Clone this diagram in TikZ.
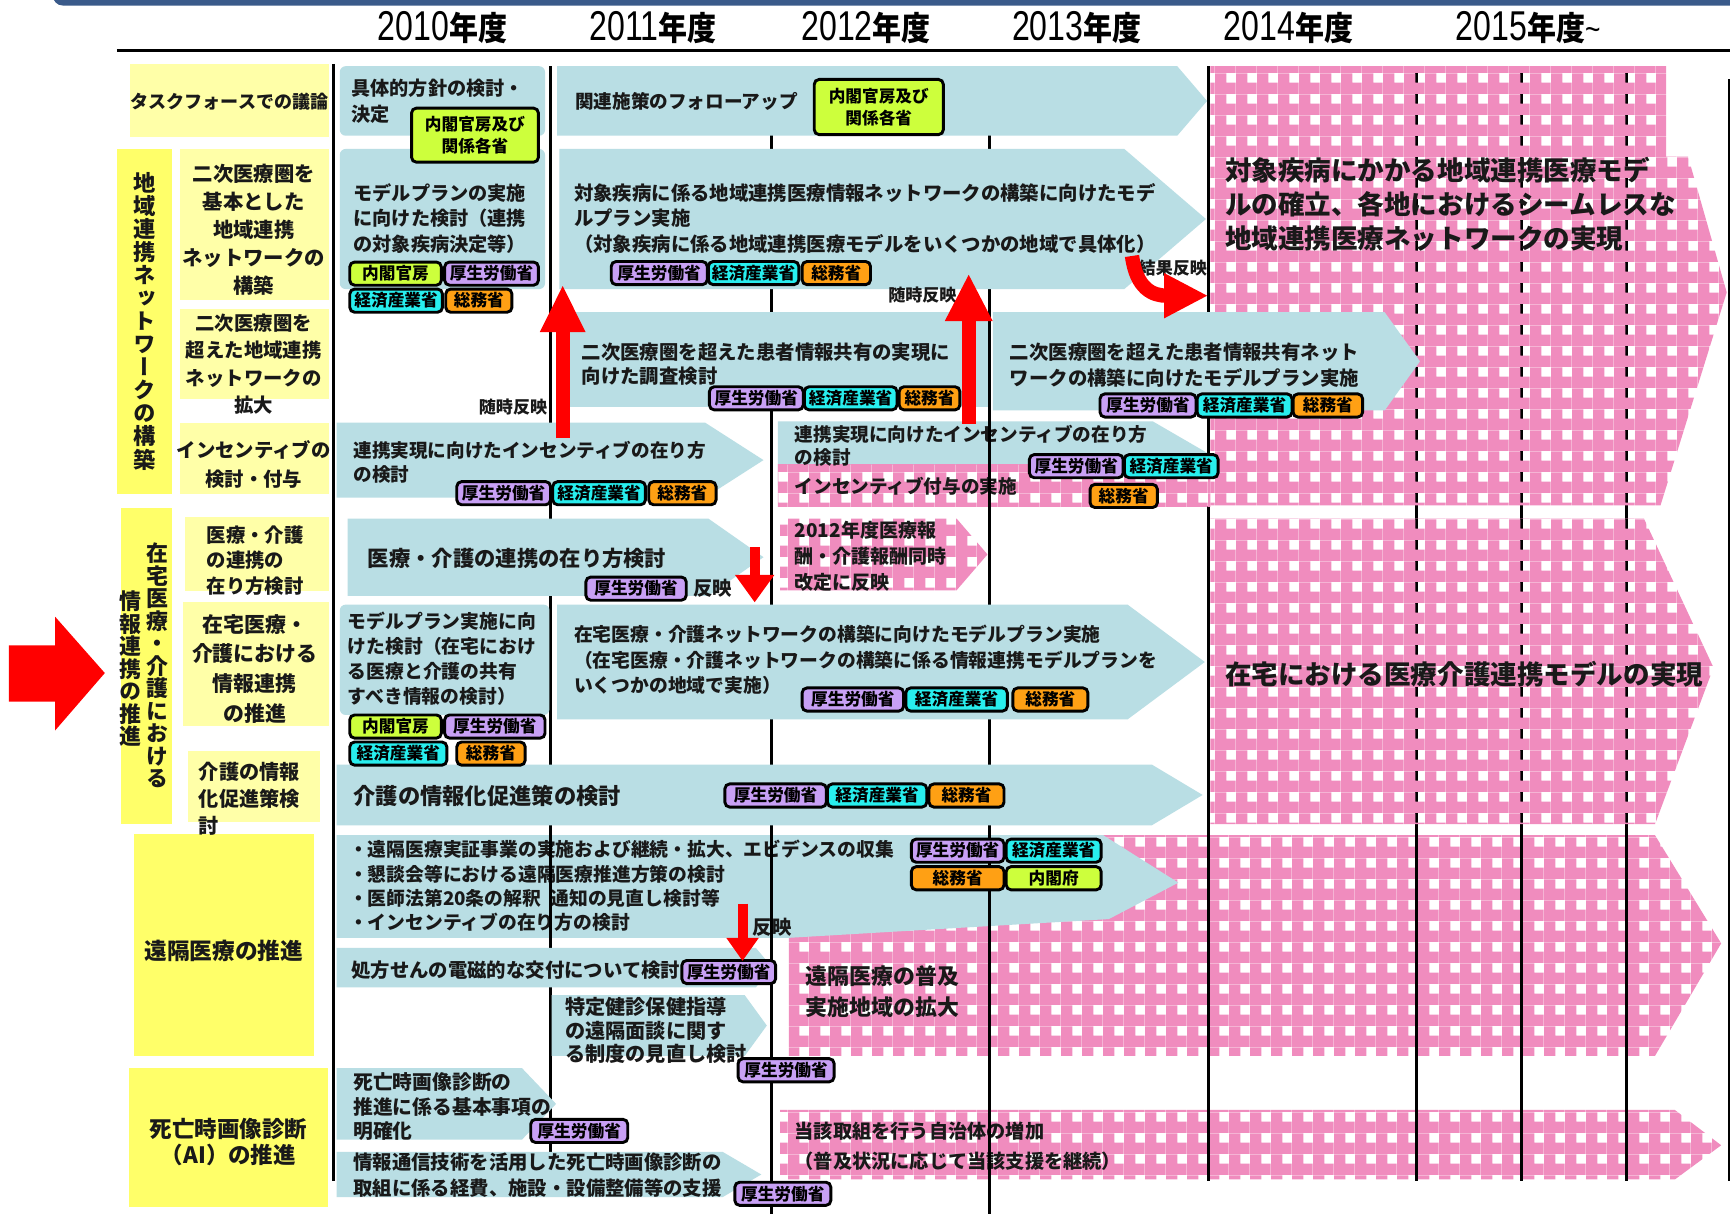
\documentclass[tikz,border=0pt]{standalone}
\usepackage{graphicx}
\usepackage{fontspec}
\setmainfont{Noto Sans CJK JP}
\newfontfamily\vertfont{Noto Sans CJK JP}[RawFeature={+vert}]
\newfontfamily\yearfont{Liberation Sans}
\usetikzlibrary{arrows.meta,patterns}
\definecolor{barblue}{RGB}{58,90,138}
\definecolor{arrblue}{RGB}{185,222,228}
\definecolor{pinkc}{RGB}{240,140,190}
\definecolor{paleyel}{RGB}{255,255,168}
\definecolor{brightyel}{RGB}{255,255,105}
\definecolor{tagpurple}{RGB}{200,160,245}
\definecolor{tagcyan}{RGB}{40,238,238}
\definecolor{tagorange}{RGB}{255,160,20}
\definecolor{taglime}{RGB}{205,255,60}
\definecolor{txtc}{RGB}{25,25,25}
\pgfdeclarepatternformonly{plaid}{\pgfqpoint{0pt}{0pt}}{\pgfqpoint{11pt}{11pt}}{\pgfqpoint{11pt}{11pt}}{%
  \pgfpathrectangle{\pgfqpoint{0pt}{0pt}}{\pgfqpoint{11pt}{6pt}}%
  \pgfpathrectangle{\pgfqpoint{0pt}{6pt}}{\pgfqpoint{6pt}{5pt}}%
  \pgfusepath{fill}}
\newcommand\pentarrow[6]{\path[#1] (#2,#3) -- ({#4-#6},#3) -- (#4,{(#3+#5)/2}) -- ({#4-#6},#5) -- (#2,#5) -- cycle;}
\newcommand\fsz[2]{\fontsize{#1}{#2}\selectfont\bfseries}
\newcommand\yearlabel[1]{\scalebox{0.77}[1]{\fontsize{21.5}{22}\selectfont\yearfont #1}\scalebox{0.88}[1]{\fontsize{17}{18}\selectfont\bfseries 年度}}
\begin{document}
\lineskiplimit=-100pt
\begin{tikzpicture}[x=0.02cm,y=-0.02cm,
  gridline/.style={line width=1.4pt,draw=black},
  bluearr/.style={fill=arrblue},
  bluebox/.style={fill=arrblue,rounded corners=3pt},
  pinkarr/.style={pattern=plaid,pattern color=pinkc},
  paleyelbox/.style={fill=paleyel},
  brightyelbox/.style={fill=brightyel},
  txt/.style={anchor=west,align=left,inner sep=0pt,text=txtc},
  lbl/.style={align=center,inner sep=0pt,text=txtc},
  vlbl/.style={align=center,inner sep=0pt,text=txtc,font=\fontsize{11.5}{11.9}\selectfont\vertfont\bfseries},
  tag/.style={draw=black,line width=1.5pt,rounded corners=2.5pt,inner sep=0pt,minimum height=0.42cm,text=black,font=\fsz{8.6}{11}},
  kousei/.style={tag,fill=tagpurple},
  keizai/.style={tag,fill=tagcyan},
  soumu/.style={tag,fill=tagorange},
  naikaku/.style={tag,fill=taglime},
  redarrow/.style={draw=red}]
\useasboundingbox[fill=white] (0,0) rectangle (1568,1103);
% header
\fill[barblue,rounded corners=5pt] (48,-20) rectangle (1600,5);
\coordinate (hlA) at (106,46); \coordinate (hlB) at (1568,46);
\draw[line width=1.3pt] (hlA) -- (hlB);
\node (y2010) at (401,25) {\yearlabel{2010}};
\node (y2011) at (592,25) {\yearlabel{2011}};
\node (y2012) at (785,25) {\yearlabel{2012}};
\node (y2013) at (976,25) {\yearlabel{2013}};
\node (y2014) at (1168,25) {\yearlabel{2014}};
\node (y2015) at (1385,25) {\yearlabel{2015}\scalebox{0.8}[1]{\fontsize{17}{18}\selectfont\yearfont\textasciitilde}};
% grid lines (under)
\foreach \x/\a/\b in {302/58/1070,499/60/1045,699/60/1100,897/60/1100,1095/60/1070,1284/60/1070,1379/60/1070,1474/60/1070,1567/72/1070}
  \draw[gridline] (\x,\a) -- (\x,\b);
% pink regions
\path[pinkarr] (1097,60) -- (1510,60) -- (1510,142) -- (1530,142) -- (1565,265) -- (1505,458) -- (1097,458) -- cycle;
\path[pinkarr] (1097,470) -- (1490,470) -- (1553,605) -- (1500,747) -- (1097,747) -- cycle;
\path[pinkarr] (715,757) -- (1500,757) -- (1560,855) -- (1500,957) -- (715,957) -- cycle;
\path[pinkarr] (707,1006) -- (1518,1006) -- (1560,1038) -- (1518,1069) -- (707,1069) -- cycle;
\pentarrow{pinkarr}{707}{470}{895}{535}{28}
% blue arrows
\path[bluebox] (308,60) rectangle (494,123);
\pentarrow{bluearr}{505}{60}{1094}{123}{27}
\path[bluebox] (308,135) rectangle (494,262);
\pentarrow{bluearr}{507}{135}{1093}{262}{74}
\path[bluearr] (517,283) rectangle (896,369);
\pentarrow{bluearr}{900}{283}{1287}{372}{32}
\pentarrow{bluearr}{305}{383}{692}{451}{53}
\pentarrow{bluearr}{705}{382}{1095}{440}{50}
\pentarrow{bluearr}{315}{470}{692}{540}{50}
\path[bluebox] (308,548) rectangle (498,648);
\pentarrow{bluearr}{505}{548}{1092}{652}{70}
\pentarrow{bluearr}{305}{693}{1090}{748}{46}
\path[bluearr] (305,757) -- (1000,757) -- (1068,800) -- (1005,833) -- (715,850) -- (305,850) -- cycle;
\pentarrow{bluearr}{305}{859}{700}{895}{15}
\pentarrow{bluearr}{500}{902}{695}{957}{20}
\pentarrow{bluearr}{305}{968}{504}{1033}{31}
\pentarrow{bluearr}{305}{1044}{690}{1085}{35}
% incentive band
\fill[white] (705,421) rectangle (1097,459);
\path[pinkarr] (705,421) rectangle (1097,459);
% yellow label boxes
\fill[paleyel] (118,58) rectangle (298,124);
\fill[brightyel] (106,135) rectangle (156,448);
\fill[paleyel] (163,135) rectangle (298,272);
\fill[paleyel] (163,280) rectangle (298,362);
\fill[paleyel] (163,383) rectangle (298,448);
\fill[brightyel] (110,460) rectangle (156,747);
\fill[paleyel] (168,469) rectangle (298,536);
\fill[paleyel] (166,546) rectangle (298,658);
\fill[paleyel] (170,681) rectangle (290,745);
\fill[brightyel] (121,756) rectangle (285,957);
\fill[brightyel] (117,968) rectangle (297,1094);
% left labels
\node[lbl,font=\fsz{9.3}{11}] (l1) at (208,92) {タスクフォースでの議論};
\node[vlbl] (l2) at (131,291) {地\\域\\連\\携\\ネ\\ッ\\ト\\ワ\\ー\\ク\\の\\構\\築};
\node[lbl,font=\fsz{10.5}{14.5}] (l3) at (230,208) {二次医療圏を\\基本とした\\地域連携\\ネットワークの\\構築};
\node[lbl,font=\fsz{10}{14.2}] (l4) at (230,330) {二次医療圏を\\超えた地域連携\\ネットワークの\\拡大};
\node[lbl,font=\fsz{10}{15}] (l5) at (230,421) {インセンティブの\\検討・付与};
\node[vlbl,font=\fontsize{11.3}{11.6}\selectfont\vertfont\bfseries] (l6a) at (143,603) {在\\宅\\医\\療\\・\\介\\護\\に\\お\\け\\る};
\node[vlbl,font=\fontsize{11.3}{11.6}\selectfont\vertfont\bfseries] (l6b) at (118,606) {情\\報\\連\\携\\の\\推\\進};
\node[txt,font=\fsz{10}{13}] (l7) at (187,508) {医療・介護\\の連携の\\在り方検討};
\node[lbl,font=\fsz{10.8}{15.3}] (l8) at (231,606) {在宅医療・\\介護における\\情報連携\\の推進};
\node[txt,font=\fsz{10.4}{14}] (l9) at (180,724) {介護の情報\\化促進策検\\討};
\node[lbl,font=\fsz{11.7}{14}] (l10) at (203,862) {遠隔医療の推進};
\node[lbl,font=\fsz{11.6}{13.6}] (l11) at (207,1035) {死亡時画像診断\\（AI）の推進};
% row texts
\node[txt,font=\fsz{9.9}{13.6}] (t1a) at (318,92) {具体的方針の検討・\\決定};
\node[txt,font=\fsz{9.6}{13}] (t1b) at (521,92) {関連施策のフォローアップ};
\node[txt,font=\fsz{9.9}{13}] (t2a) at (320,198) {モデルプランの実施\\に向けた検討（連携\\の対象疾病決定等）};
\node[txt,font=\fsz{10}{13}] (t2b) at (520,198) {対象疾病に係る地域連携医療情報ネットワークの構築に向けたモデ\\ルプラン実施\\（対象疾病に係る地域連携医療モデルをいくつかの地域で具体化）};
\node[txt,font=\fsz{10}{12}] (t3a) at (527,330) {二次医療圏を超えた患者情報共有の実現に\\向けた調査検討};
\node[txt,font=\fsz{10}{13}] (t3b) at (915,331) {二次医療圏を超えた患者情報共有ネット\\ワークの構築に向けたモデルプラン実施};
\node[txt,font=\fsz{9.6}{12}] (t4a) at (320,419) {連携実現に向けたインセンティブの在り方\\の検討};
\node[txt,font=\fsz{9.6}{12}] (t4b) at (720,404) {連携実現に向けたインセンティブの在り方\\の検討};
\node[txt,font=\fsz{9.6}{12}] (t4c) at (720,441) {インセンティブ付与の実施};
\node[txt,font=\fsz{11}{13}] (t5a) at (333,506) {医療・介護の連携の在り方検討};
\node[txt,font=\fsz{9.8}{13.3}] (t5b) at (720,504) {2012年度医療報\\酬・介護報酬同時\\改定に反映};
\node[lbl,font=\fsz{10}{12}] (t5c) at (646,533) {反映};
\node[txt,font=\fsz{9.7}{13}] (t6a) at (315,597) {モデルプラン実施に向\\けた検討（在宅におけ\\る医療と介護の共有\\すべき情報の検討）};
\node[txt,font=\fsz{9.7}{13.3}] (t6b) at (520,598) {在宅医療・介護ネットワークの構築に向けたモデルプラン実施\\（在宅医療・介護ネットワークの構築に係る情報連携モデルプランを\\いくつかの地域で実施）};
\node[txt,font=\fsz{11.5}{13}] (t7) at (320,721) {介護の情報化促進策の検討};
\node[txt,font=\fsz{9.7}{12.5}] (t8) at (316,803) {・遠隔医療実証事業の実施および継続・拡大、エビデンスの収集\\・懇談会等における遠隔医療推進方策の検討\\・医師法第20条の解釈\hspace{0.5em}通知の見直し検討等\\・インセンティブの在り方の検討};
\node[lbl,font=\fsz{10}{12}] (t8b) at (700,840) {反映};
\node[txt,font=\fsz{10}{12}] (t9) at (318,879) {処方せんの電磁的な交付について検討};
\node[txt,font=\fsz{10.4}{12.2}] (t10) at (512,934) {特定健診保健指導\\の遠隔面談に関す\\る制度の見直し検討};
\node[txt,font=\fsz{10.2}{12.8}] (t11a) at (320,1003) {死亡時画像診断の\\推進に係る基本事項の\\明確化};
\node[txt,font=\fsz{10}{13.6}] (t11b) at (320,1065) {情報通信技術を活用した死亡時画像診断の\\取組に係る経費、施設・設備整備等の支援};
\node[txt,font=\fsz{11.3}{16}] (t12) at (730,899) {遠隔医療の普及\\実施地域の拡大};
\node[txt,font=\fsz{9.9}{15.3}] (t13) at (720,1039) {当該取組を行う自治体の増加\\（普及状況に応じて当該支援を継続）};
\node[txt,font=\fsz{13.7}{17.6}] (t14) at (1110,185) {対象疾病にかかる地域連携医療モデ\\ルの確立、各地におけるシームレスな\\地域連携医療ネットワークの実現};
\node[txt,font=\fsz{13.7}{16}] (t15) at (1110,611) {在宅における医療介護連携モデルの実現};
\node[lbl,font=\fsz{8.8}{10}] (s1) at (836,267) {随時反映};
\node[lbl,font=\fsz{8.8}{10}] (s2) at (465,369) {随時反映};
\node[lbl,font=\fsz{8.8}{10}] (s3) at (1063,243) {結果反映};
% grid segments on top
\foreach \x/\a/\b in {499/757/850,699/757/850,897/757/1100,1095/757/1070,1284/757/1070,1379/757/1070,1474/757/1070,1567/757/1070,897/283/465}
  \draw[gridline] (\x,\a) -- (\x,\b);
% tags
\node[naikaku,minimum width=2.3cm,minimum height=0.98cm,align=center] (g1a) at (430.5,122.5) {内閣官房及び\\関係各省};
\node[naikaku,minimum width=2.34cm,minimum height=1.0cm,align=center] (g1b) at (796.5,97) {内閣官房及び\\関係各省};
\node[naikaku,minimum width=1.66cm] (g2a) at (358.5,248) {内閣官房};
\node[kousei,minimum width=1.7cm] (g2b) at (445.5,248) {厚生労働省};
\node[keizai,minimum width=1.68cm] (g2c) at (359,272.5) {経済産業省};
\node[soumu,minimum width=1.2cm] (g2d) at (434,272.5) {総務省};
\node[kousei,minimum width=1.74cm] (g2e) at (597.5,247.5) {厚生労働省};
\node[keizai,minimum width=1.64cm] (g2f) at (683,247.5) {経済産業省};
\node[soumu,minimum width=1.24cm] (g2g) at (758,247.5) {総務省};
\node[kousei,minimum width=1.7cm] (g3a) at (685.5,361) {厚生労働省};
\node[keizai,minimum width=1.68cm] (g3b) at (771,361) {経済産業省};
\node[soumu,minimum width=1.1cm] (g3c) at (842.5,361) {総務省};
\node[kousei,minimum width=1.74cm] (g3d) at (1040.5,367.5) {厚生労働省};
\node[keizai,minimum width=1.72cm] (g3e) at (1128,367.5) {経済産業省};
\node[soumu,minimum width=1.26cm] (g3f) at (1203.5,367.5) {総務省};
\node[kousei,minimum width=1.7cm] (g4a) at (456.5,447) {厚生労働省};
\node[keizai,minimum width=1.68cm] (g4b) at (543,447) {経済産業省};
\node[soumu,minimum width=1.22cm] (g4c) at (618.5,447) {総務省};
\node[kousei,minimum width=1.7cm] (g4d) at (975.5,422.5) {厚生労働省};
\node[keizai,minimum width=1.7cm] (g4e) at (1061.5,422.5) {経済産業省};
\node[soumu,minimum width=1.22cm] (g4f) at (1018.5,449.5) {総務省};
\node[kousei,minimum width=1.82cm] (g5a) at (576.5,533.5) {厚生労働省};
\node[naikaku,minimum width=1.66cm] (g6a) at (358.5,658.5) {内閣官房};
\node[kousei,minimum width=1.82cm] (g6b) at (448.5,658.5) {厚生労働省};
\node[keizai,minimum width=1.76cm] (g6c) at (361,683) {経済産業省};
\node[soumu,minimum width=1.24cm] (g6d) at (445,683) {総務省};
\node[kousei,minimum width=1.84cm] (g6e) at (773,634) {厚生労働省};
\node[keizai,minimum width=1.84cm] (g6f) at (867,634) {経済産業省};
\node[soumu,minimum width=1.36cm] (g6g) at (952,634) {総務省};
\node[kousei,minimum width=1.84cm] (g7a) at (703,721) {厚生労働省};
\node[keizai,minimum width=1.8cm] (g7b) at (795,721) {経済産業省};
\node[soumu,minimum width=1.36cm] (g7c) at (876,721) {総務省};
\node[kousei,minimum width=1.68cm] (g8a) at (868,771) {厚生労働省};
\node[keizai,minimum width=1.72cm] (g8b) at (955,771) {経済産業省};
\node[soumu,minimum width=1.68cm] (g8c) at (868,796) {総務省};
\node[naikaku,minimum width=1.72cm] (g8d) at (955,796) {内閣府};
\node[kousei,minimum width=1.7cm] (g9a) at (660.5,881) {厚生労働省};
\node[kousei,minimum width=1.74cm] (g10a) at (712.5,970) {厚生労働省};
\node[kousei,minimum width=1.76cm] (g11a) at (525,1025) {厚生労働省};
\node[kousei,minimum width=1.74cm] (g11b) at (709.5,1082) {厚生労働省};
% red arrows
\coordinate (r1s) at (510,397); \coordinate (r1e) at (510,258);
\coordinate (r2s) at (878,384); \coordinate (r2e) at (878,248);
\coordinate (r3s) at (684,496); \coordinate (r3e) at (684,546);
\coordinate (r4s) at (673,819); \coordinate (r4e) at (673,871);
\coordinate (r5s) at (1026,232); \coordinate (r5e) at (1095,268);
\draw[redarrow,line width=0.26cm,-{Triangle[length=0.86cm,width=0.76cm]}] (r1s) -- (r1e);
\draw[redarrow,line width=0.26cm,-{Triangle[length=0.86cm,width=0.8cm]}] (r2s) -- (r2e);
\draw[redarrow,line width=0.18cm,-{Triangle[length=0.5cm,width=0.68cm]}] (r3s) -- (r3e);
\draw[redarrow,line width=0.18cm,-{Triangle[length=0.42cm,width=0.56cm]}] (r4s) -- (r4e);
\draw[redarrow,line width=0.26cm,-{Triangle[length=0.8cm,width=0.76cm]}] (r5s) .. controls (1030,262) and (1045,268) .. (r5e);
\fill[red] (8,585) -- (50,585) -- (50,559) -- (95,610) -- (50,662) -- (50,636) -- (8,636) -- cycle;
\end{tikzpicture}
\end{document}
